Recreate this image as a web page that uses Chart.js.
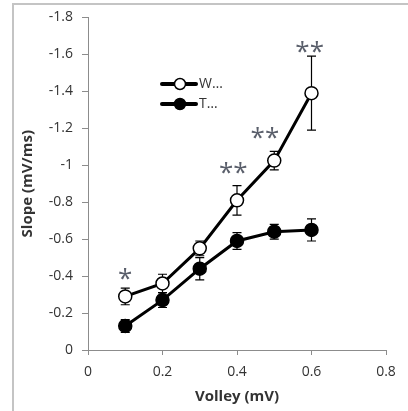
<!DOCTYPE html>
<html>
<head>
<meta charset="utf-8">
<script src="https://cdn.jsdelivr.net/npm/chart.js@4.4.1/dist/chart.umd.min.js"></script>
<style>
  html, body { margin: 0; padding: 0; background: #fff; }
  #wrap { width: 408px; height: 411px; position: relative; }
</style>
</head>
<body>
<div id="wrap"><canvas id="slopeChart"></canvas></div>
<script>
// data
const volley = [0.1, 0.2, 0.3, 0.4, 0.5, 0.6];
const wSlope = [-0.29, -0.36, -0.55, -0.81, -1.025, -1.39];
const wErr = [0.045, 0.05, 0.04, 0.08, 0.05, 0.2];
const tSlope = [-0.13, -0.27, -0.44, -0.59, -0.64, -0.65];
const tErr = [0.035, 0.04, 0.06, 0.045, 0.04, 0.06];

// significance marks
const starX = [0.1, 0.39, 0.475, 0.595];
const starY = [-0.42, -0.99, -1.18, -1.65];
const starText = ['*', '**', '**', '**'];

const legendLabels = ['W\u2026', 'T\u2026'];

const FONT = "'Open Sans', sans-serif";
const TEXT_COLOR = '#333';

function toPoints(xs, ys) {
  return xs.map((x, i) => ({ x: x, y: ys[i] }));
}

// error bars, frame, stars and the inset legend
const extras = {
  id: 'extras',
  beforeDraw(chart) {
    const ctx = chart.ctx;
    ctx.save();
    ctx.strokeStyle = '#c4c4c4';
    ctx.lineWidth = 2;
    ctx.beginPath();
    ctx.moveTo(13, 411);
    ctx.lineTo(13, 4);
    ctx.lineTo(408, 4);
    ctx.stroke();
    ctx.restore();
  },
  beforeDatasetsDraw(chart) {
    const ctx = chart.ctx;
    const xs = chart.scales.x, ys = chart.scales.y;
    ctx.save();
    ctx.strokeStyle = '#000';
    ctx.lineWidth = 1.2;
    [[wSlope, wErr], [tSlope, tErr]].forEach(([vals, errs]) => {
      vals.forEach((v, i) => {
        const px = xs.getPixelForValue(volley[i]);
        const top = ys.getPixelForValue(v - errs[i]);
        const bot = ys.getPixelForValue(v + errs[i]);
        ctx.beginPath();
        ctx.moveTo(px, top); ctx.lineTo(px, bot);
        ctx.moveTo(px - 4.5, top); ctx.lineTo(px + 4.5, top);
        ctx.moveTo(px - 4.5, bot); ctx.lineTo(px + 4.5, bot);
        ctx.stroke();
      });
    });
    ctx.restore();
  },
  afterDraw(chart) {
    const ctx = chart.ctx;
    const xs = chart.scales.x, ys = chart.scales.y;
    ctx.save();
    // stars
    ctx.fillStyle = '#5a5f6b';
    ctx.font = '26px ' + FONT;
    ctx.textAlign = 'center';
    ctx.textBaseline = 'middle';
    starText.forEach((s, i) => {
      ctx.fillText(s, xs.getPixelForValue(starX[i]), ys.getPixelForValue(starY[i]) + 7);
    });
    // legend
    const rows = [
      { y: 84, fill: '#fff', label: legendLabels[0] },
      { y: 104, fill: '#000', label: legendLabels[1] }
    ];
    rows.forEach(r => {
      ctx.strokeStyle = '#000';
      ctx.lineWidth = 4;
      ctx.lineCap = 'round';
      ctx.beginPath();
      ctx.moveTo(162, r.y); ctx.lineTo(196, r.y);
      ctx.stroke();
      ctx.lineWidth = 1.5;
      ctx.fillStyle = r.fill;
      ctx.beginPath();
      ctx.arc(180, r.y, 5.5, 0, Math.PI * 2);
      ctx.fill();
      ctx.stroke();
      ctx.fillStyle = TEXT_COLOR;
      ctx.font = '14px ' + FONT;
      ctx.textAlign = 'left';
      ctx.textBaseline = 'middle';
      ctx.fillText(r.label, 199, r.y);
    });
    ctx.restore();
  }
};

new Chart(document.getElementById('slopeChart'), {
  type: 'scatter',
  data: {
    datasets: [
      {
        label: 'T',
        data: toPoints(volley, tSlope),
        showLine: true,
        borderColor: '#000',
        borderWidth: 3,
        backgroundColor: '#000',
        pointRadius: 6.5,
        pointBorderWidth: 1.5,
        pointBorderColor: '#000',
        pointBackgroundColor: '#000'
      },
      {
        label: 'W',
        data: toPoints(volley, wSlope),
        showLine: true,
        borderColor: '#000',
        borderWidth: 3,
        backgroundColor: '#fff',
        pointRadius: 6.5,
        pointBorderWidth: 1.5,
        pointBorderColor: '#000',
        pointBackgroundColor: '#fff'
      }
    ]
  },
  options: {
    responsive: true,
    maintainAspectRatio: false,
    animation: false,
    layout: { padding: { left: 0, top: 15, right: 22, bottom: 0 } },
    plugins: {
      legend: { display: false },
      tooltip: { enabled: false }
    },
    scales: {
      x: {
        type: 'linear',
        min: 0,
        max: 0.8,
        ticks: {
          stepSize: 0.2,
          color: TEXT_COLOR,
          font: { family: FONT, size: 14 },
          padding: 9,
          callback: v => Math.round(v * 10) / 10
        },
        grid: { drawOnChartArea: false, drawTicks: true, tickLength: 5, color: '#8c8c8c' },
        border: { color: '#8c8c8c', width: 1 },
        title: {
          display: true,
          text: 'Volley (mV)',
          color: TEXT_COLOR,
          font: { family: FONT, size: 15, weight: 'bold' },
          padding: { top: 0, bottom: 5 }
        },
        afterFit(scale) { scale.height = 61; }
      },
      y: {
        type: 'linear',
        min: -1.8,
        max: 0,
        reverse: true,
        ticks: {
          stepSize: 0.2,
          color: TEXT_COLOR,
          font: { family: FONT, size: 14 },
          padding: 9,
          callback: v => Math.round(v * 10) / 10
        },
        grid: { drawOnChartArea: false, drawTicks: true, tickLength: 6, color: '#8c8c8c' },
        border: { color: '#8c8c8c', width: 1 },
        title: {
          display: true,
          text: 'Slope (mV/ms)',
          color: TEXT_COLOR,
          font: { family: FONT, size: 15, weight: 'bold' },
          padding: { top: 19, bottom: 0 }
        },
        afterFit(scale) { scale.width = 88; }
      }
    }
  },
  plugins: [extras]
});
</script>
</body>
</html>
